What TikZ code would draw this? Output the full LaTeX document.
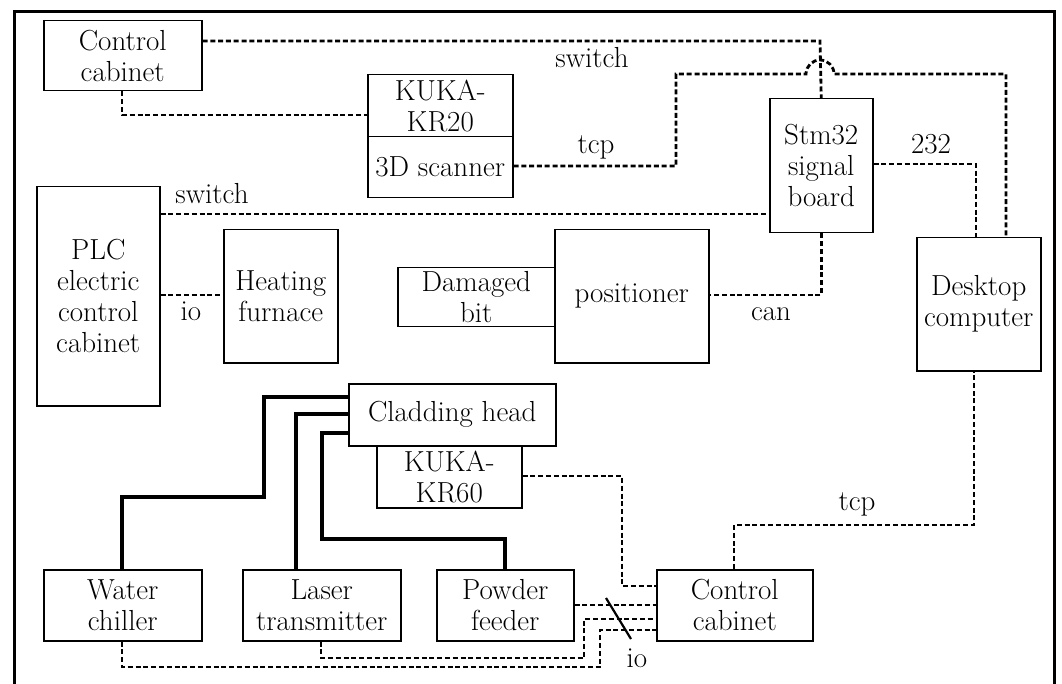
\documentclass[tikz,border=0pt]{standalone}
\usepackage{tikz}
\begin{document}
\begin{tikzpicture}[x=1pt,y=-1pt,
  box/.style={draw, line width=1.5pt, inner sep=0pt, anchor=north west, align=center,
    font=\fontsize{29}{31}\selectfont},
  lbl/.style={anchor=base, inner sep=0pt, font=\fontsize{29}{31}\selectfont},
  conn/.style={line width=2.8pt, dash pattern=on 5pt off 2.8pt, line join=miter},
  pipe/.style={line width=3.2pt, line join=miter},
  frame/.style={line width=3pt}]
\useasboundingbox (0,0) rectangle (1062,684);
\draw[frame] (14,690) -- (14,12) -- (1054,12) -- (1054,690);

% boxes
\node[box, minimum width=158pt, minimum height=70pt] (cc1) at (43,20) {Control\\cabinet};
\node[box, minimum width=145pt, minimum height=62pt] (kr20) at (367,74) {KUKA-\\KR20};
\node[box, minimum width=145pt, minimum height=61pt] (scan) at (367,136) {3D scanner};
\node[box, minimum width=103pt, minimum height=134pt] (stm) at (769,98) {Stm32\\signal\\board};
\node[box, minimum width=123pt, minimum height=219pt] (plc) at (36,186) {PLC\\electric\\control\\cabinet};
\node[box, minimum width=114pt, minimum height=133pt] (furn) at (223,229) {Heating\\furnace};
\node[box, minimum width=157pt, minimum height=59pt] (dmg) at (397,267) {Damaged\\bit};
\node[box, minimum width=154pt, minimum height=133pt] (pos) at (554,229) {positioner};
\node[box, minimum width=124pt, minimum height=133pt] (desk) at (916,237) {Desktop\\computer};
\node[box, minimum width=207pt, minimum height=62pt] (clad) at (348,383) {Cladding head};
\node[box, minimum width=145pt, minimum height=62pt] (kr60) at (376,445) {KUKA-\\KR60};
\node[box, minimum width=158pt, minimum height=71pt] (water) at (43,569) {Water\\chiller};
\node[box, minimum width=158pt, minimum height=71pt] (laser) at (242,569) {Laser\\transmitter};
\node[box, minimum width=137pt, minimum height=71pt] (powder) at (436,569) {Powder\\feeder};
\node[box, minimum width=156pt, minimum height=71pt] (cc2) at (656,569) {Control\\cabinet};

% dashed connectors
\draw[conn] (cc1.east |- 0,41) -- (820,41) -- (stm.north);
\draw[conn] (cc1.south -| 122,0) -- (122,115) -- (kr20.west |- 0,115);
\draw[conn] (scan.east |- 0,166) -- (676,166) -- (676,74) -- (806,74)
  arc[start angle=180, end angle=360, radius=14] -- (1006,74) -- (desk.north -| 1006,0);
\draw[conn] (stm.east |- 0,164) -- (976,164) -- (desk.north -| 976,0);
\draw[conn] (plc.east |- 0,214) -- (stm.west |- 0,214);
\draw[conn] (plc.east |- 0,295) -- (furn.west |- 0,295);
\draw[conn] (stm.south) -- (stm.south |- 0,295) -- (pos.east |- 0,295);
\draw[conn] (kr60.east |- 0,476) -- (622,476) -- (622,586) -- (cc2.west |- 0,586);
\draw[conn] (powder.east |- 0,605) -- (cc2.west |- 0,605);
\draw[conn] (laser.south -| 321,0) -- (321,658) -- (584,658) -- (584,619) -- (cc2.west |- 0,619);
\draw[conn] (water.south -| 122,0) -- (122,667) -- (600,667) -- (600,630) -- (cc2.west |- 0,630);
\draw[conn] (cc2.north -| 734,0) -- (734,525) -- (974,525) -- (desk.south -| 974,0);

% thick pipes
\draw[pipe] (clad.west |- 0,397) -- (264,397) -- (264,497) -- (122,497) -- (water.north -| 122,0);
\draw[pipe] (clad.west |- 0,414) -- (296,414) -- (laser.north -| 296,0);
\draw[pipe] (clad.west |- 0,433) -- (322,433) -- (322,539) -- (505,539) -- (powder.north -| 505,0);

% io slash
\coordinate (s1) at (606,598);
\coordinate (s2) at (631,639);
\draw[line width=2.2pt] (s1) -- (s2);

% labels
\node[lbl] (l1) at (592,68) {switch};
\node[lbl] (l2) at (596,154) {tcp};
\node[lbl] (l3) at (931,154) {232};
\node[lbl] (l4) at (212,204) {switch};
\node[lbl] (l5) at (191,321) {io};
\node[lbl] (l6) at (771,321) {can};
\node[lbl] (l7) at (857,510) {tcp};
\node[lbl] (l8) at (637,667) {io};
\end{tikzpicture}
\end{document}
